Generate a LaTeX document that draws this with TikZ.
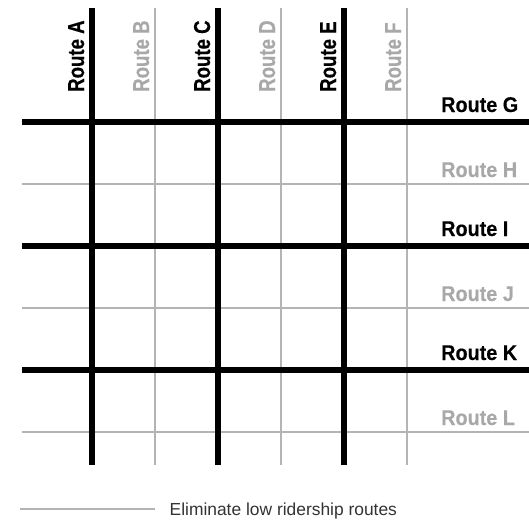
\documentclass[tikz,border=0pt]{standalone}
\usepackage{fontspec}
\setmainfont{Liberation Sans}
\newfontfamily\vlabfont[FakeStretch=0.81,FakeBold=0.4]{Liberation Sans Bold}
\newfontfamily\hlabfont[FakeStretch=0.93,FakeBold=0.3]{Liberation Sans Bold}
\definecolor{lowgray}{HTML}{B4B4B4}
\definecolor{labgray}{HTML}{A8A8A8}
\definecolor{legtext}{HTML}{333333}
\begin{document}
\begin{tikzpicture}[x=1pt,y=-1pt,
  thickroute/.style={line width=6.5pt, black},
  thinroute/.style={line width=1.4pt, lowgray},
  hlab/.style={anchor=base west, inner sep=0pt, font=\hlabfont\fontsize{21.3}{25}\selectfont},
  vlab/.style={anchor=base west, inner sep=0pt, rotate=90, font=\vlabfont\fontsize{23}{27}\selectfont},
  hi/.style={text=black}, lo/.style={text=labgray},
  legline/.style={line width=1.2pt, lowgray},
  legtxt/.style={anchor=base west, inner sep=0pt, text=legtext, font=\fontsize{17.4}{20}\selectfont}]
\useasboundingbox (0,0) rectangle (529,519);
% end points of vertical routes
\foreach \n/\x in {A/92,B/155,C/218,D/281,E/344,F/407}{
  \coordinate (\n top) at (\x,8);
  \coordinate (\n bot) at (\x,465);
}
% end points of horizontal routes
\foreach \n/\y in {G/122,H/184,I/246,J/308,K/370,L/432}{
  \coordinate (\n left) at (22,\y);
  \coordinate (\n right) at (529,\y);
}
% low ridership routes
\foreach \n in {B,D,F}{\draw[thinroute] (\n top) -- (\n bot);}
\foreach \n in {H,J,L}{\draw[thinroute] (\n left) -- (\n right);}
% high ridership routes
\foreach \n in {G,I,K}{\draw[thickroute] (\n left) -- (\n right);}
\foreach \n in {A,C,E}{\draw[thickroute] (\n top) -- (\n bot);}
% vertical labels
\node[vlab,hi] (la) at (84,92) {Route A};
\node[vlab,lo] (lb) at (149,92) {Route B};
\node[vlab,hi] (lc) at (210,92) {Route C};
\node[vlab,lo] (ld) at (275,92) {Route D};
\node[vlab,hi] (le) at (336,92) {Route E};
\node[vlab,lo] (lf) at (401,92) {Route F};
% horizontal labels
\node[hlab,hi] (lg) at (441,112) {Route G};
\node[hlab,lo] (lh) at (441,177) {Route H};
\node[hlab,hi] (li) at (441,236) {Route I};
\node[hlab,lo] (lj) at (441,301) {Route J};
\node[hlab,hi] (lk) at (441,360) {Route K};
\node[hlab,lo] (ll) at (441,425) {Route L};
% legend
\coordinate (legA) at (20,509);
\coordinate (legB) at (155,509);
\draw[legline] (legA) -- (legB);
\node[legtxt] (legend) at (169.5,515) {Eliminate low ridership routes};
\end{tikzpicture}
\end{document}
